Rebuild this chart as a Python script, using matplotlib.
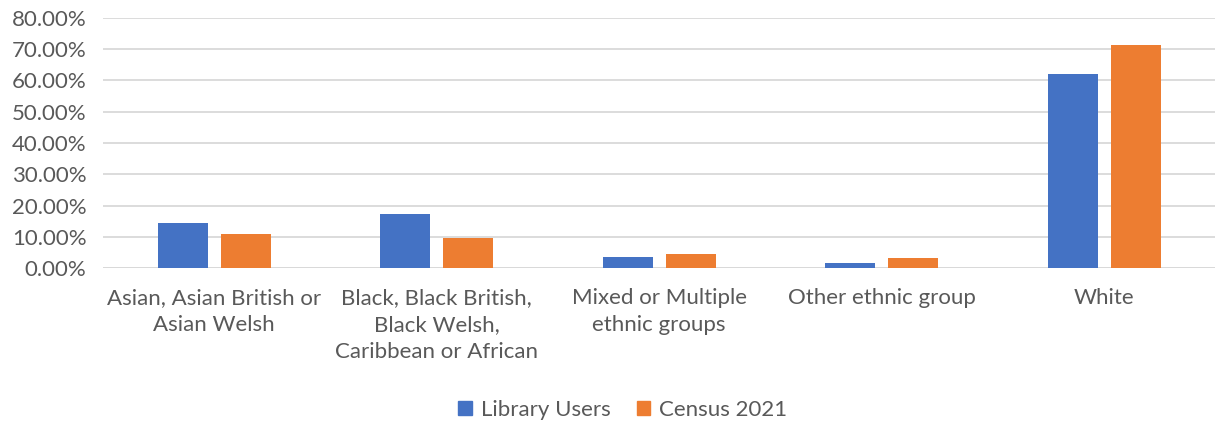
import matplotlib.pyplot as plt
from matplotlib.ticker import FuncFormatter
from matplotlib.patches import Patch
import numpy as np

# data
categories = ["Asian, Asian British or\nAsian Welsh",
              "Black, Black British,\nBlack Welsh,\nCaribbean or African",
              "Mixed or Multiple\nethnic groups",
              "Other ethnic group",
              "White"]
library_users = [14.4, 17.2, 3.7, 1.8, 61.9]
census_2021 = [10.9, 9.5, 4.4, 3.1, 71.3]

blue = '#4472C4'
orange = '#ED7D31'
txt = '#595959'

plt.rcParams['font.family'] = ['Lato', 'DejaVu Sans']

fig = plt.figure(figsize=(12.19, 4.25), dpi=100)
ax = fig.add_axes([0.0845, 0.369, 0.9125, 0.589])

x = np.arange(len(categories))
w = 0.225
gap = 0.058
ax.bar(x - (w + gap) / 2, library_users, w, color=blue, label='Library Users', zorder=3)
ax.bar(x + (w + gap) / 2, census_2021, w, color=orange, label='Census 2021', zorder=3)

ax.set_xlim(-0.5, len(categories) - 0.5)
ax.set_ylim(0, 80)
ax.set_yticks(np.arange(0, 81, 10))
ax.yaxis.set_major_formatter(FuncFormatter(lambda v, p: '%.2f%%' % v))
ax.grid(axis='y', color='#D9D9D9', linewidth=1.3, zorder=0)

ax.set_xticks(x)
ax.set_xticklabels(categories, va='top', ha='center', linespacing=1.45)
ax.tick_params(axis='both', length=0, labelsize=16, labelcolor=txt)
ax.tick_params(axis='x', pad=14)
ax.tick_params(axis='y', pad=12)

for s in ax.spines.values():
    s.set_visible(False)
ax.axhline(0, color='#D9D9D9', linewidth=1.3, zorder=1)

handles = [Patch(color=blue, label='Library Users'), Patch(color=orange, label='Census 2021')]
fig.legend(handles=handles, loc='center', bbox_to_anchor=(0.511, 0.035), ncol=2,
           frameon=False, fontsize=16, labelcolor=txt, handlelength=0.6, handleheight=0.6,
           handletextpad=0.4, columnspacing=1.2)

fig.savefig('out.png', dpi=100)
